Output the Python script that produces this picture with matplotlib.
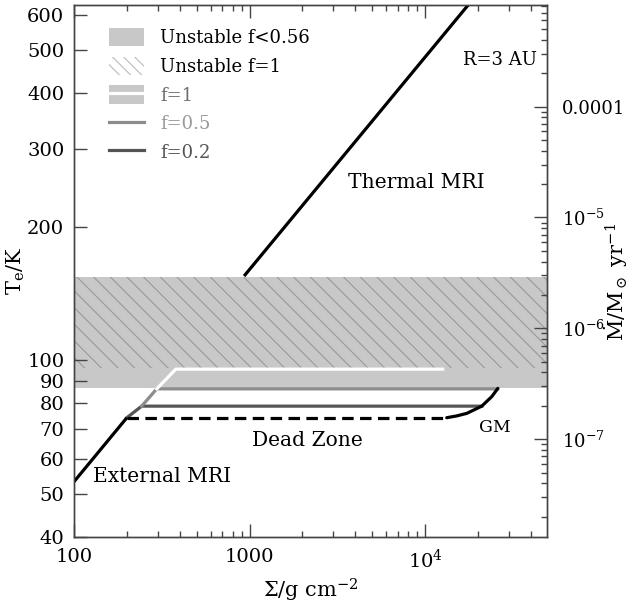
import numpy as np
import matplotlib
matplotlib.use('Agg')
import matplotlib.pyplot as plt
from matplotlib.patches import Patch
from matplotlib.lines import Line2D
from matplotlib.ticker import FixedLocator, FuncFormatter, NullLocator, LogLocator

plt.rcParams['font.family'] = 'DejaVu Serif'
plt.rcParams['mathtext.fontset'] = 'dejavuserif'
plt.rcParams['font.size'] = 13
plt.rcParams['hatch.linewidth'] = 0.8

# unstable regions (T_e in K)
unstable_lo, unstable_hi = 86.7, 154.0   # f < 0.56
unstable_f1_lo = 96.0                   # f = 1

# MRI active branches (Sigma in g cm^-2, T_e in K)
ext_sigma = [100, 200]
ext_T = [53.3, 74.3]
thermal_sigma = [931, 17600]
thermal_T = [155, 633]

# dead zone branches
f02_sigma = [200, 243, 21040]
f02_T = [74.3, 78.9, 78.9]
f05_sigma = [243, 296, 25960]
f05_T = [78.9, 86.3, 86.3]
f1_sigma = [296, 380, 12600]
f1_T = [86.3, 95.6, 95.6]
dead_sigma = [200, 13290]
dead_T = [74.3, 74.3]
gm_sigma = [13290, 15160, 17290, 21040, 23990, 25960]
gm_T = [74.3, 75.0, 76.0, 78.9, 82.9, 86.5]

# accretion rate axis: Mdot [Msun/yr] = K * T_e^4 at R = 3 AU
K = 5.13e-15
mdot_ticks = [1e-7, 1e-6, 1e-5, 1e-4]
mdot_labels = [r'$10^{-7}$', r'$10^{-6}$', r'$10^{-5}$', '0.0001']

t_ticks = [40, 50, 60, 70, 80, 90, 100, 200, 300, 400, 500, 600]
s_ticks = [100, 1000, 1e4]
s_labels = ['100', '1000', r'$10^4$']

band_grey = '#c8c8c8'
hatch_grey = '#9a9a9a'
c05 = '#8c8c8c'
c02 = '#555555'
axc = '#444444'

tmin, tmax = 40, 633

fig = plt.figure(figsize=(6.33, 6.04), dpi=100)
ax = fig.add_axes([74/633, 1-537/604, 473/633, 532/604])
ax.set_xscale('log')
ax.set_yscale('log')
ax.set_xlim(100, 4.95e4)
ax.set_ylim(tmin, tmax)

ax.axhspan(unstable_lo, unstable_hi, color=band_grey, lw=0, zorder=1)
ax.axhspan(unstable_f1_lo, unstable_hi, facecolor='none', edgecolor=hatch_grey,
           hatch='\\\\', lw=0, zorder=1.5)

lw = 2.3
ax.plot(ext_sigma, ext_T, color='k', lw=lw, solid_capstyle='butt', zorder=4)
ax.plot(thermal_sigma, thermal_T, color='k', lw=lw, solid_capstyle='butt', zorder=4)
ax.plot(dead_sigma, dead_T, color='k', lw=lw, dashes=(3.6, 2.0), zorder=4)
ax.plot(gm_sigma, gm_T, color='k', lw=lw, solid_capstyle='round', zorder=4)
ax.plot(f02_sigma, f02_T, color=c02, lw=lw, zorder=3)
ax.plot(f05_sigma, f05_T, color=c05, lw=lw, zorder=3)
ax.plot(f1_sigma, f1_T, color='white', lw=lw, zorder=3)

# axes ticks
ax.xaxis.set_major_locator(FixedLocator(s_ticks))
ax.xaxis.set_major_formatter(FuncFormatter(lambda v, p: s_labels[s_ticks.index(v)] if v in s_ticks else ''))
ax.xaxis.set_minor_locator(LogLocator(base=10, subs=np.arange(2, 10)))
ax.xaxis.set_minor_formatter(FuncFormatter(lambda v, p: ''))
ax.yaxis.set_major_locator(FixedLocator(t_ticks))
ax.yaxis.set_major_formatter(FuncFormatter(lambda v, p: '%d' % v))
ax.yaxis.set_minor_locator(NullLocator())
ax.tick_params(which='both', direction='in', top=True, right=False, color=axc, width=1.0,
               labelsize=14)
ax.tick_params(which='major', length=9.5)
ax.tick_params(which='minor', length=4.5)
ax.tick_params(axis='x', which='major', pad=8)
ax.tick_params(axis='y', which='major', pad=7)
for sp in ax.spines.values():
    sp.set_color(axc)
    sp.set_linewidth(1.0)

# right axis: accretion rate, log Mdot is linear in log T_e
ax2 = ax.twinx()
ax2.set_yscale('log')
ax2.set_ylim(K * tmin**4, K * tmax**4)
ax2.yaxis.set_major_locator(FixedLocator(mdot_ticks))
ax2.yaxis.set_major_formatter(FuncFormatter(lambda v, p: dict(zip(mdot_ticks, mdot_labels)).get(v, '')))
ax2.yaxis.set_minor_locator(LogLocator(base=10, subs=np.arange(2, 10), numticks=20))
ax2.yaxis.set_minor_formatter(FuncFormatter(lambda v, p: ''))
ax2.tick_params(which='both', direction='in', color=axc, width=1.0, labelsize=13)
ax2.tick_params(which='major', length=9.5, pad=11)
ax2.tick_params(which='minor', length=4.5)
for sp in ax2.spines.values():
    sp.set_color(axc)
    sp.set_linewidth(1.0)

ax.set_xlabel(r'$\Sigma/{\rm g\ cm^{-2}}$', labelpad=4, fontsize=15)
ax.set_ylabel(r'${\rm T_e/K}$', fontsize=15)
ax.yaxis.set_label_coords(-0.1, 0.5)
fig.text(616/633, 1-282/604, r'$\dot{\mathrm{M}}/\mathrm{M}_\odot\ \mathrm{yr}^{-1}$',
         rotation=90, ha='center', va='center', fontsize=15)

ax.text(0.979, 0.897, 'R=3 AU', transform=ax.transAxes, ha='right', va='center')
ax.text(0.579, 0.667, 'Thermal MRI', transform=ax.transAxes, ha='left', va='center', fontsize=14.6)
ax.text(0.376, 0.182, 'Dead Zone', transform=ax.transAxes, ha='left', va='center', fontsize=14.6)
ax.text(0.856, 0.205, 'GM', transform=ax.transAxes, ha='left', va='center', fontsize=12.5)
ax.text(0.040, 0.113, 'External MRI', transform=ax.transAxes, ha='left', va='center', fontsize=14.6)

handles = [
    Patch(facecolor=band_grey, edgecolor='none'),
    Patch(facecolor='white', edgecolor='#bbbbbb', hatch='\\\\\\', lw=0),
    (Patch(facecolor=band_grey, edgecolor='none'), Line2D([], [], color='white', lw=lw)),
    Line2D([], [], color=c05, lw=lw),
    Line2D([], [], color=c02, lw=lw),
]
labels = ['Unstable f<0.56', 'Unstable f=1', 'f=1', 'f=0.5', 'f=0.2']
leg = ax.legend(handles, labels, loc='upper left', bbox_to_anchor=(0.074, 0.957),
                frameon=False, borderpad=0, borderaxespad=0, handlelength=1.95,
                handleheight=1.2, labelspacing=0.52, handletextpad=0.9)
for t, c in zip(leg.get_texts(), ['k', 'k', '#6f6f6f', '#9a9a9a', c02]):
    t.set_color(c)

fig.savefig('out.png', dpi=100)
